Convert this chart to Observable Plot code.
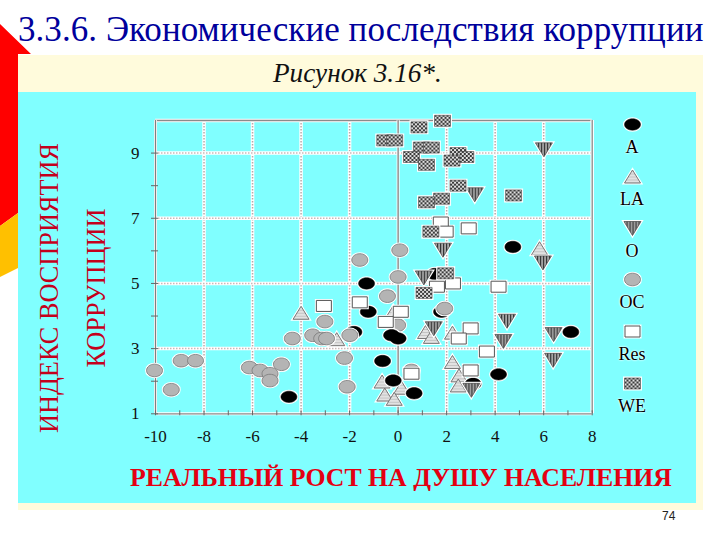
<!DOCTYPE html>
<html><head><meta charset="utf-8">
<script src="https://cdn.jsdelivr.net/npm/d3@7"></script>
<script src="https://cdn.jsdelivr.net/npm/@observablehq/plot@0.6"></script>
<style>
html,body{margin:0;padding:0;background:#fff;width:720px;height:540px;overflow:hidden}
#page{position:relative;width:720px;height:540px;overflow:hidden;font-family:"Liberation Serif",serif}
.abs{position:absolute;white-space:nowrap}
#frame{left:18px;top:55px;width:685px;height:455px;background:#fffbdc}
#panel{left:18px;top:92px;width:678px;height:411px;background:#80ffff}
#redbar{left:0;top:0;width:31px;height:226px;background:#ff0000;clip-path:polygon(0 24px,31px 54px,18px 54px,18px 213px,0 226px)}
#yelbar{left:0;top:212px;width:18px;height:66px;background:#ffc000;clip-path:polygon(0 14px,18px 1px,18px 56px,0 65px)}
#title{left:18px;top:10px;font-size:35px;line-height:40px;color:#00009c;letter-spacing:.06px}
#sub{left:273px;top:58px;font-size:27.2px;line-height:30px;font-style:italic;color:#111}
.vert{color:#c4001c;font-size:26.3px;line-height:28px;transform:translate(-50%,-50%) rotate(-90deg)}
#xlab{left:130px;top:463px;font-size:25.8px;line-height:30px;font-weight:bold;color:#e40012}
#pn{left:662px;top:509px;font:12px "Liberation Sans",sans-serif;color:#222}
#chart{left:0;top:0}
#legend{left:598px;top:114px;width:68px;text-align:center;color:#000;font-size:18px;line-height:20px}
#legend svg{display:block;margin:0 auto}
#legend .it{height:51.8px}
#legend .it svg{overflow:visible}
#legend .it div{margin-top:3px;text-shadow:0 0 2px #fff,0 0 2px #fff}
</style></head><body>
<svg width="0" height="0" style="position:absolute"><defs>
<pattern id="we" width="4" height="4" patternUnits="userSpaceOnUse"><rect width="4" height="4" fill="#3a3a3a"/><rect width="2" height="2" fill="#e4e4e4"/><rect x="2" y="2" width="2" height="2" fill="#d4d4d4"/></pattern>
<pattern id="oo" width="3" height="3" patternUnits="userSpaceOnUse"><rect width="3" height="3" fill="#a8a8a8"/><rect width="1.2" height="3" fill="#333"/></pattern>
<pattern id="la" width="3" height="3" patternUnits="userSpaceOnUse"><rect width="3" height="3" fill="#e2e2e2"/><rect width="3" height="1" fill="#c4c4c4"/></pattern>
</defs></svg>
<div id="page">
<div class="abs" id="frame"></div><div class="abs" id="panel"></div>
<div class="abs" id="redbar"></div><div class="abs" id="yelbar"></div>
<div class="abs" id="title">3.3.6. Экономические последствия коррупции</div>
<div class="abs" id="sub">Рисунок 3.16*.</div>
<div class="abs" id="chart"></div>
<div class="abs vert" style="left:50px;top:288px">ИНДЕКС ВОСПРИЯТИЯ</div>
<div class="abs vert" style="left:97px;top:288px">КОРРУПЦИИ</div>
<div class="abs" id="xlab">РЕАЛЬНЫЙ РОСТ НА ДУШУ НАСЕЛЕНИЯ</div>
<div class="abs" id="pn">74</div>
<div class="abs" id="legend"></div>
</div>
<script>
// Axis ticks
const xTickLabels = [-10,-8,-6,-4,-2,0,2,4,6,8];
const yTickLabels = [1,3,5,7,9];
const xMinor = [-10,-9,-8,-7,-6,-5,-4,-3,-2,-1,0,1,2,3,4,5,6,7,8];
const yMinor = [1,2,3,4,5,6,7,8,9];
const xGrid = [-8,-6,-4,-2,2,4,6];
const yGrid = [3,5,7,9];

// Series: [real growth per capita, corruption perceptions index]
const A = [[-4.5,1.52],[-1.82,3.51],[-1.23,4.13],[-1.3,5.0],[-0.27,3.41],[0,3.31],[-0.64,2.62],[-0.2,2.02],[0.66,1.63],[3.09,1.92],[4.14,2.21],[7.12,3.51],[1.79,4.13],[1.51,5.29],[4.73,6.12]];
const LA = [[-4,4.1],[-2.53,3.29],[5.83,6.08],[-0.2,4.12],[1.13,3.51],[1.37,3.36],[2.24,3.49],[2.24,2.59],[2.51,2.18],[2.48,1.87],[-0.66,1.99],[0.14,1.8],[-0.55,1.59],[-0.16,1.46]];
const O = [[6.01,9.1],[3.16,7.72],[1.85,6.02],[5.97,5.63],[1.06,5.17],[4.49,3.84],[1.47,3.61],[4.34,3.22],[6.41,3.43],[6.39,2.64],[3.02,1.72]];
// OC points lying under the A markers, then the OC points lying over them
const OCunder = [[-0.02,3.72]];
const OC = [[-1.58,5.72],[0.07,6.02],[0,5.2],[-10.04,2.33],[-8.94,2.63],[-8.35,2.63],[-9.35,1.74],[-6.13,2.42],[-5.69,2.33],[-5.28,2.23],[-5.28,2.02],[-4.81,2.52],[-4.36,3.31],[-3.52,3.41],[-3.02,3.83],[-3.15,3.31],[-2.95,3.31],[-1.99,3.41],[-2.21,2.71],[-2.1,1.83],[-0.44,4.61],[1.92,4.23],[0.55,2.33]];
const Res = [[-3.06,4.31],[-1.58,4.42],[0.11,4.13],[-0.51,3.82],[1.6,4.9],[2.26,5],[4.14,4.9],[2.99,3.62],[2.5,3.31],[3.66,2.91],[2.99,2.33],[0.55,2.23],[1.76,6.87],[1.96,6.59],[2.91,6.69]];
const WE = [[1.83,9.99],[0.86,9.79],[-0.55,9.39],[-0.14,9.39],[0.96,9.17],[1.37,9.17],[0.55,8.88],[1.17,8.64],[2.47,9],[2.79,8.88],[2.22,8.77],[2.47,8],[1.79,7.6],[1.17,7.49],[4.76,7.7],[1.35,6.59],[1.96,5.31],[1.07,4.71]];
const legendNames = ["A","LA","O","OC","Res","WE"];

// Symbols
const ellipseSym = (rx, ry) => ({draw(c){const k=0.5523;c.moveTo(rx,0);
  c.bezierCurveTo(rx,k*ry,k*rx,ry,0,ry);c.bezierCurveTo(-k*rx,ry,-rx,k*ry,-rx,0);
  c.bezierCurveTo(-rx,-k*ry,-k*rx,-ry,0,-ry);c.bezierCurveTo(k*rx,-ry,rx,-k*ry,rx,0);c.closePath();}});
const rectSym = (w,h) => ({draw(c){c.moveTo(-w,-h);c.lineTo(w,-h);c.lineTo(w,h);c.lineTo(-w,h);c.closePath();}});
const triSym = (w,h) => ({draw(c){c.moveTo(0,h);c.lineTo(w,-h);c.lineTo(-w,-h);c.closePath();}});
const styles = {
  A:{symbol:ellipseSym(8,5.7),fill:"#000",stroke:"#000",strokeWidth:.5},
  LA:{symbol:triSym(8,-6.5),fill:"url(#la)",stroke:"#777",strokeWidth:1},
  O:{symbol:triSym(8.5,7),fill:"url(#oo)",stroke:"#444",strokeWidth:.7},
  OC:{symbol:ellipseSym(8,6.3),fill:"#b4b4b4",stroke:"#777",strokeWidth:.8},
  Res:{symbol:rectSym(7.5,5.5),fill:"#fff",stroke:"#555",strokeWidth:1},
  WE:{symbol:rectSym(8,5.5),fill:"url(#we)",stroke:"#444",strokeWidth:.6}
};
const series = (data,s) => [
  Plot.dot(data,{x:d=>d[0],y:d=>d[1],symbol:s.symbol,fill:"#fff",stroke:"#fff",strokeWidth:3}),
  Plot.dot(data,{x:d=>d[0],y:d=>d[1],...s})
];

const chart = Plot.plot({
  width:720,height:540,
  marginLeft:155,marginRight:128.3,marginTop:120,marginBottom:126.7,
  style:{background:"transparent",fontFamily:"'Liberation Serif',serif",color:"#111",overflow:"visible"},
  x:{domain:[-10,8]},
  y:{domain:[1,10]},
  marks:[
    Plot.ruleX(xGrid,{stroke:"#fff",strokeWidth:3.5}),
    Plot.ruleX(xGrid,{stroke:"#b9a9a9",strokeWidth:1.5,strokeDasharray:"1.5 1.5"}),
    Plot.ruleY(yGrid,{stroke:"#fff",strokeWidth:3.5}),
    Plot.ruleY(yGrid,{stroke:"#c9b9b9",strokeWidth:1.5,strokeDasharray:"1.5 1.5"}),
    Plot.ruleY([10],{stroke:"#fff",strokeWidth:3.5}),
    Plot.ruleY([10],{stroke:"#8a8a8a",strokeWidth:1.3}),
    Plot.ruleX([8],{stroke:"#fff",strokeWidth:3.5}),
    Plot.ruleX([8],{stroke:"#8a8a8a",strokeWidth:1.3}),
    Plot.ruleY([1],{stroke:"#fff",strokeWidth:3}),
    Plot.ruleY([1],{stroke:"#8a8a8a",strokeWidth:1.3}),
    Plot.ruleX([-10,0],{stroke:"#fff",strokeWidth:3}),
    Plot.ruleX([-10,0],{stroke:"#7f7f7f",strokeWidth:1.3}),
    Plot.axisX({ticks:xMinor,tickFormat:()=>null,tickSize:5,anchor:"bottom",stroke:"#666",dy:-3,label:null}),
    Plot.axisX({ticks:xTickLabels,tickFormat:d=>String(d),tickSize:0,tickPadding:16.5,anchor:"bottom",fontSize:17,label:null,fill:"#111"}),
    Plot.axisY({ticks:yMinor,tickFormat:()=>null,tickSize:7,anchor:"left",stroke:"#666",label:null,dx:3}),
    Plot.axisY({ticks:yTickLabels,tickFormat:d=>String(d),tickSize:0,tickPadding:16,anchor:"left",fontSize:17,label:null,fill:"#111"}),
    ...series(LA,styles.LA),
    ...series(OCunder,styles.OC),
    ...series(A,styles.A),
    ...series(O,styles.O),
    ...series(OC,styles.OC),
    ...series(Res,styles.Res),
    ...series(WE,styles.WE)
  ]
});
document.getElementById("chart").append(chart);

// Legend built with the same symbols, one small Plot per entry
const leg = document.getElementById("legend");
legendNames.forEach(n=>{
  const it=document.createElement("div");it.className="it";
  const p=Plot.plot({width:40,height:20,margin:0,axis:null,x:{domain:[0,1]},y:{domain:[0,1]},style:{background:"transparent",overflow:"visible"},
    marks:series([[0.5,0.5]],styles[n])});
  it.append(p);
  const t=document.createElement("div");t.textContent=n;it.append(t);
  leg.append(it);
});
</script></body></html>
